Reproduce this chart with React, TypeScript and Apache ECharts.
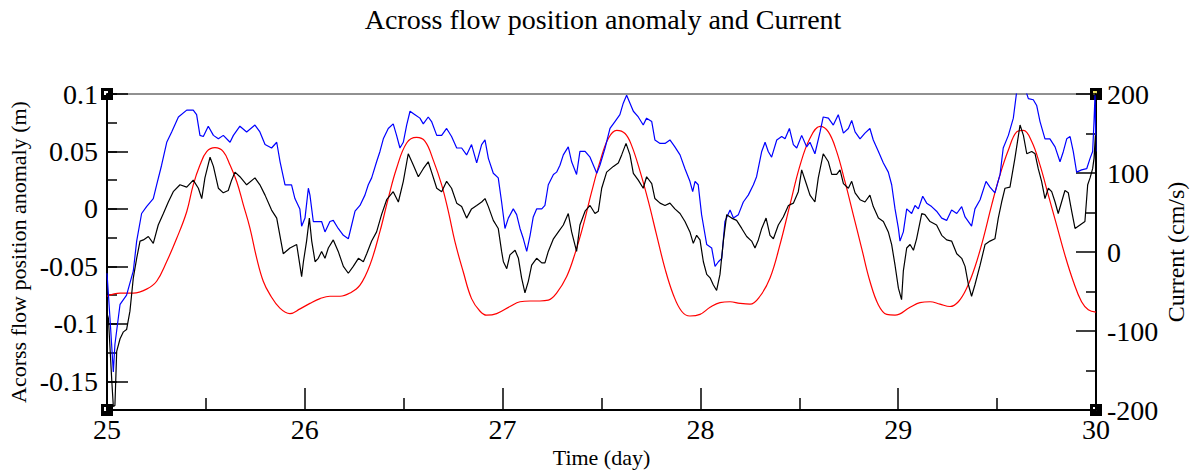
import React, { useEffect, useRef } from "react";
import * as echarts from "echarts";

const TITLE = "Across flow position anomaly and Current";
const X_NAME = "Time (day)";
const LEFT_NAME = "Acorss flow position anomaly (m)";
const RIGHT_NAME = "Current (cm/s)";

const leftTickValues = [-0.15, -0.1, -0.05, 0, 0.05, 0.1];

// Current (cm/s), right axis
const redCurrent: [number, number][] = [
  [25.000,-56],[25.066,-52],[25.133,-52],[25.200,-47],[25.251,-37],[25.302,-12],[25.352,17],[25.403,51],[25.436,85],[25.470,110],[25.504,127],[25.546,132],[25.588,127],[25.622,110],[25.656,89],[25.689,60],[25.723,30],[25.757,-8],[25.790,-37],[25.824,-54],[25.874,-71],[25.925,-78],[25.976,-72],
  [26.026,-65],[26.077,-59],[26.127,-56],[26.178,-56],[26.228,-52],[26.279,-42],[26.330,-16],[26.380,26],[26.422,68],[26.464,106],[26.515,138],[26.565,145],[26.608,140],[26.650,116],[26.692,85],[26.726,51],[26.759,13],[26.801,-25],[26.843,-59],[26.886,-75],[26.919,-80],[26.970,-78],
  [27.037,-69],[27.088,-63],[27.139,-62],[27.189,-62],[27.231,-61],[27.273,-52],[27.324,-31],[27.366,-2],[27.408,34],[27.450,76],[27.492,114],[27.535,144],[27.577,154],[27.619,150],[27.652,135],[27.695,102],[27.737,64],[27.779,21],[27.821,-21],[27.863,-54],[27.905,-75],[27.947,-81],[27.998,-79],
  [28.049,-70],[28.099,-64],[28.150,-63],[28.200,-65],[28.251,-66],[28.301,-56],[28.352,-33],[28.402,9],[28.453,60],[28.504,110],[28.554,144],[28.605,159],[28.647,152],[28.689,127],[28.731,89],[28.773,47],[28.815,5],[28.857,-37],[28.900,-67],[28.942,-79],[28.984,-80],
  [29.060,-70],[29.110,-64],[29.161,-63],[29.211,-66],[29.262,-69],[29.304,-63],[29.346,-46],[29.388,-19],[29.430,17],[29.473,60],[29.515,98],[29.557,129],[29.599,152],[29.633,154],[29.675,140],[29.717,110],[29.759,72],[29.801,34],[29.843,-4],[29.885,-37],[29.927,-63],[29.961,-73],[30.000,-76]
];

// Position anomaly (m), left axis, blue
const blueAnomaly: [number, number][] = [
  [25.000,-0.056],[25.015,-0.095],[25.032,-0.142],[25.040,-0.118],[25.066,-0.083],[25.099,-0.075],[25.133,-0.054],[25.150,-0.028],[25.175,-0.004],[25.200,0.002],[25.234,0.009],[25.251,0.021],[25.276,0.038],[25.302,0.058],[25.327,0.067],[25.361,0.080],[25.403,0.086],[25.436,0.086],[25.453,0.082],[25.470,0.064],[25.487,0.063],[25.512,0.072],[25.538,0.064],[25.563,0.061],[25.588,0.064],[25.622,0.058],[25.639,0.064],[25.672,0.072],[25.706,0.067],[25.748,0.073],[25.773,0.067],[25.799,0.056],[25.832,0.053],[25.858,0.058],[25.875,0.041],[25.900,0.021],[25.933,0.021],[25.950,0.009],[25.975,0.000],[25.984,-0.015],
  [26.001,-0.008],[26.018,0.018],[26.026,0.012],[26.043,-0.011],[26.068,-0.011],[26.085,-0.011],[26.102,-0.020],[26.127,-0.011],[26.144,-0.010],[26.169,-0.017],[26.195,-0.023],[26.220,-0.026],[26.237,-0.014],[26.254,-0.002],[26.279,0.003],[26.304,0.012],[26.321,0.021],[26.338,0.027],[26.363,0.041],[26.380,0.050],[26.397,0.061],[26.422,0.070],[26.447,0.074],[26.464,0.064],[26.481,0.053],[26.498,0.058],[26.515,0.073],[26.532,0.085],[26.557,0.082],[26.582,0.079],[26.599,0.074],[26.624,0.080],[26.641,0.076],[26.667,0.064],[26.692,0.064],[26.717,0.070],[26.742,0.063],[26.768,0.053],[26.793,0.053],[26.818,0.047],[26.843,0.056],[26.869,0.040],[26.894,0.056],[26.911,0.060],[26.928,0.044],[26.953,0.031],[26.978,0.027],[26.995,0.006],
  [27.012,-0.017],[27.029,-0.008],[27.054,0.000],[27.071,-0.005],[27.088,-0.017],[27.105,-0.026],[27.122,-0.037],[27.139,-0.023],[27.155,-0.007],[27.172,0.000],[27.198,0.000],[27.214,0.003],[27.231,0.021],[27.257,0.030],[27.273,0.032],[27.290,0.038],[27.307,0.047],[27.332,0.054],[27.349,0.041],[27.374,0.030],[27.391,0.050],[27.417,0.050],[27.442,0.045],[27.459,0.038],[27.476,0.031],[27.492,0.038],[27.518,0.053],[27.543,0.070],[27.568,0.076],[27.593,0.082],[27.610,0.092],[27.627,0.099],[27.644,0.092],[27.661,0.085],[27.686,0.080],[27.711,0.073],[27.728,0.079],[27.754,0.076],[27.770,0.060],[27.796,0.057],[27.821,0.057],[27.846,0.060],[27.871,0.054],[27.897,0.047],[27.922,0.035],[27.947,0.024],[27.961,0.015],[27.973,0.024],[27.989,0.021],
  [28.006,-0.005],[28.015,-0.014],[28.032,-0.031],[28.057,-0.034],[28.074,-0.050],[28.091,-0.046],[28.108,-0.043],[28.124,-0.011],[28.150,-0.001],[28.167,-0.008],[28.192,-0.005],[28.217,0.006],[28.242,0.012],[28.268,0.021],[28.284,0.028],[28.310,0.050],[28.327,0.058],[28.343,0.050],[28.360,0.045],[28.386,0.060],[28.411,0.063],[28.428,0.061],[28.450,0.070],[28.470,0.056],[28.487,0.053],[28.512,0.064],[28.537,0.054],[28.554,0.058],[28.579,0.048],[28.605,0.067],[28.621,0.080],[28.647,0.079],[28.672,0.073],[28.697,0.082],[28.723,0.066],[28.748,0.070],[28.765,0.077],[28.782,0.067],[28.807,0.061],[28.832,0.066],[28.857,0.070],[28.874,0.060],[28.900,0.050],[28.925,0.040],[28.950,0.032],[28.967,0.021],[28.984,0.000],[29.001,-0.017],[29.009,-0.028],
  [29.026,-0.020],[29.043,0.000],[29.068,-0.004],[29.085,0.003],[29.102,0.000],[29.124,0.011],[29.144,0.005],[29.169,0.002],[29.194,-0.002],[29.220,-0.008],[29.245,-0.010],[29.270,-0.001],[29.296,-0.004],[29.321,0.002],[29.338,-0.007],[29.355,-0.011],[29.371,-0.015],[29.388,0.000],[29.414,0.008],[29.444,0.024],[29.464,0.019],[29.489,0.014],[29.515,0.030],[29.531,0.053],[29.557,0.064],[29.582,0.079],[29.599,0.102],[29.616,0.108],[29.641,0.105],[29.658,0.096],[29.683,0.095],[29.700,0.090],[29.717,0.076],[29.742,0.061],[29.767,0.061],[29.793,0.054],[29.818,0.041],[29.835,0.050],[29.852,0.061],[29.869,0.063],[29.885,0.050],[29.902,0.032],[29.927,0.034],[29.953,0.035],[29.970,0.044],[29.983,0.050],[29.990,0.076],[29.995,0.099],[30.000,0.050]
];

// Position anomaly (m), left axis, black
const blackAnomaly: [number, number][] = [
  [25.000,-0.091],[25.007,-0.095],[25.024,-0.149],[25.032,-0.172],[25.040,-0.171],[25.049,-0.124],[25.066,-0.113],[25.083,-0.107],[25.099,-0.105],[25.116,-0.089],[25.133,-0.060],[25.150,-0.043],[25.167,-0.028],[25.184,-0.027],[25.209,-0.024],[25.234,-0.030],[25.259,-0.014],[25.285,-0.004],[25.310,0.006],[25.335,0.015],[25.369,0.021],[25.403,0.019],[25.436,0.025],[25.462,0.018],[25.479,0.009],[25.495,0.027],[25.521,0.045],[25.538,0.037],[25.563,0.018],[25.588,0.014],[25.613,0.016],[25.630,0.025],[25.647,0.032],[25.672,0.028],[25.706,0.021],[25.748,0.027],[25.773,0.021],[25.799,0.012],[25.832,-0.001],[25.858,-0.008],[25.891,-0.039],[25.925,-0.034],[25.959,-0.031],[25.976,-0.050],[25.984,-0.059],[25.993,-0.046],
  [26.009,-0.028],[26.023,-0.008],[26.035,-0.028],[26.052,-0.046],[26.068,-0.043],[26.085,-0.037],[26.102,-0.043],[26.119,-0.034],[26.144,-0.027],[26.169,-0.037],[26.195,-0.050],[26.220,-0.056],[26.245,-0.050],[26.271,-0.043],[26.296,-0.046],[26.313,-0.039],[26.338,-0.028],[26.363,-0.020],[26.388,-0.005],[26.414,0.008],[26.447,0.015],[26.473,0.006],[26.498,0.024],[26.523,0.048],[26.549,0.038],[26.574,0.028],[26.599,0.035],[26.624,0.041],[26.641,0.032],[26.667,0.018],[26.692,0.015],[26.717,0.024],[26.742,0.018],[26.768,0.005],[26.793,0.002],[26.818,-0.008],[26.843,0.000],[26.869,0.003],[26.894,0.006],[26.911,0.009],[26.928,0.002],[26.953,-0.010],[26.978,-0.017],[26.995,-0.037],
  [27.004,-0.046],[27.021,-0.052],[27.037,-0.040],[27.063,-0.036],[27.080,-0.043],[27.096,-0.060],[27.113,-0.073],[27.130,-0.063],[27.147,-0.049],[27.172,-0.043],[27.198,-0.047],[27.214,-0.047],[27.231,-0.037],[27.257,-0.026],[27.282,-0.020],[27.307,-0.014],[27.332,-0.004],[27.349,-0.020],[27.374,-0.037],[27.391,-0.014],[27.417,-0.002],[27.442,0.003],[27.467,-0.004],[27.484,-0.002],[27.501,0.018],[27.526,0.032],[27.560,0.037],[27.585,0.040],[27.602,0.047],[27.624,0.057],[27.644,0.047],[27.661,0.031],[27.686,0.025],[27.711,0.018],[27.728,0.028],[27.754,0.022],[27.770,0.009],[27.796,0.005],[27.821,0.003],[27.846,0.005],[27.871,0.000],[27.897,-0.004],[27.922,-0.011],[27.947,-0.020],[27.964,-0.030],[27.981,-0.023],[27.998,-0.027],
  [28.015,-0.046],[28.032,-0.057],[28.049,-0.060],[28.065,-0.066],[28.082,-0.071],[28.099,-0.057],[28.116,-0.028],[28.133,-0.005],[28.158,-0.008],[28.183,-0.010],[28.209,-0.017],[28.234,-0.024],[28.259,-0.028],[28.276,-0.034],[28.293,-0.027],[28.310,-0.017],[28.332,-0.008],[28.352,-0.023],[28.369,-0.026],[28.394,-0.014],[28.419,-0.007],[28.445,0.003],[28.470,0.005],[28.495,0.015],[28.512,0.034],[28.537,0.021],[28.554,0.012],[28.579,0.006],[28.596,0.027],[28.621,0.048],[28.647,0.041],[28.664,0.030],[28.689,0.030],[28.706,0.034],[28.723,0.022],[28.748,0.018],[28.765,0.024],[28.782,0.014],[28.807,0.008],[28.832,0.006],[28.857,0.012],[28.874,0.002],[28.900,-0.008],[28.925,-0.011],[28.950,-0.020],[28.967,-0.031],[28.984,-0.049],[29.001,-0.069],[29.017,-0.079],
  [29.026,-0.054],[29.043,-0.034],[29.060,-0.031],[29.077,-0.036],[29.093,-0.026],[29.119,-0.004],[29.135,-0.005],[29.161,-0.011],[29.194,-0.014],[29.220,-0.023],[29.245,-0.027],[29.270,-0.028],[29.296,-0.039],[29.321,-0.043],[29.338,-0.050],[29.355,-0.066],[29.371,-0.076],[29.388,-0.066],[29.414,-0.049],[29.439,-0.031],[29.464,-0.028],[29.489,-0.026],[29.506,-0.008],[29.523,0.006],[29.540,0.018],[29.565,0.019],[29.590,0.044],[29.616,0.073],[29.633,0.064],[29.650,0.048],[29.675,0.050],[29.692,0.048],[29.708,0.035],[29.725,0.024],[29.742,0.009],[29.759,0.018],[29.776,0.015],[29.793,0.006],[29.809,-0.004],[29.826,0.006],[29.843,0.016],[29.860,0.014],[29.877,-0.002],[29.894,-0.017],[29.919,-0.014],[29.944,-0.011],[29.958,0.021],[29.970,0.027],[29.983,0.035],[29.990,0.044],[29.997,0.064],[30.000,-0.049]
];

const FONT = "Liberation Serif";
const GRID = { left: 107, right: 94, top: 94, bottom: 65 };
const W = 1190;
const H = 475;

export default function App() {
  const ref = useRef<HTMLDivElement>(null);

  useEffect(() => {
    if (!ref.current) return;
    const chart = echarts.init(ref.current, undefined, { renderer: "svg" });
    const x0 = GRID.left;
    const x1 = W - GRID.right;
    const y0 = GRID.top;
    const y1 = H - GRID.bottom;
    const corner = (cx: number, cy: number, inner: string) => ({
      type: "group",
      children: [
        { type: "rect", shape: { x: cx - 6, y: cy - 6, width: 12, height: 12 }, style: { fill: "#000" } },
        { type: "rect", shape: { x: cx - 3, y: cy - 3, width: 4, height: 4 }, style: { fill: inner } },
      ],
    });
    const tickStyle = { color: "#000", width: 1.5 };
    const option: any = {
      animation: false,
      backgroundColor: "#fff",
      title: {
        text: TITLE,
        left: 598,
        top: 0,
        textAlign: "center",
        textStyle: { fontFamily: FONT, fontSize: 28, fontWeight: "normal", color: "#000" },
      },
      grid: {
        ...GRID,
        outerBoundsMode: "none",
        containLabel: false,
        show: true,
        borderColor: "#222",
        borderWidth: 1,
        backgroundColor: "transparent",
      },
      xAxis: {
        type: "value",
        min: 25,
        max: 30,
        interval: 1,
        name: X_NAME,
        nameLocation: "middle",
        nameGap: 36,
        nameMoveOverlap: false,
        nameTextStyle: { fontFamily: FONT, fontSize: 22, color: "#000" },
        axisLine: { show: true, onZero: false, lineStyle: { color: "#000", width: 2 } },
        axisTick: { show: true, inside: true, length: 22, lineStyle: tickStyle },
        minorTick: { show: true, splitNumber: 2, length: 12, lineStyle: tickStyle },
        axisLabel: { fontFamily: FONT, fontSize: 28, color: "#000", margin: 5 },
        splitLine: { show: false },
        minorSplitLine: { show: false },
      },
      yAxis: [
        {
          type: "value",
          position: "left",
          min: -0.175,
          max: 0.1,
          name: LEFT_NAME,
          nameLocation: "middle",
          nameRotate: 90,
          nameGap: 78,
          nameMoveOverlap: false,
          nameTextStyle: { fontFamily: FONT, fontSize: 22, color: "#000" },
          axisLine: { show: true, onZero: false, lineStyle: { color: "#000", width: 2 } },
          axisTick: { show: true, inside: true, length: 21, customValues: leftTickValues, lineStyle: tickStyle },
          axisLabel: { fontFamily: FONT, fontSize: 28, color: "#000", margin: 9, customValues: leftTickValues },
          splitLine: { show: false },
        },
        {
          type: "value",
          position: "left",
          min: -0.175,
          max: 0.1,
          interval: 0.025,
          axisLine: { show: false, onZero: false },
          axisTick: { show: true, inside: true, length: 10, lineStyle: tickStyle },
          axisLabel: { show: false },
          splitLine: { show: false },
        },
        {
          type: "value",
          position: "right",
          min: -200,
          max: 200,
          interval: 100,
          name: RIGHT_NAME,
          nameLocation: "middle",
          nameRotate: 90,
          nameGap: 68,
          nameMoveOverlap: false,
          nameTextStyle: { fontFamily: FONT, fontSize: 24, color: "#000" },
          axisLine: { show: true, onZero: false, lineStyle: { color: "#000", width: 2 } },
          axisTick: { show: true, inside: true, length: 20, lineStyle: tickStyle },
          minorTick: { show: true, splitNumber: 2, length: 10, lineStyle: tickStyle },
          axisLabel: { fontFamily: FONT, fontSize: 28, color: "#000", margin: 11 },
          splitLine: { show: false },
        },
      ],
      series: [
        {
          name: "Current",
          type: "line",
          yAxisIndex: 2,
          data: redCurrent,
          showSymbol: false,
          symbol: "none",
          smooth: 0.4,
          lineStyle: { color: "#ff0000", width: 1.2 },
          z: 2,
        },
        {
          name: "Anomaly (blue)",
          type: "line",
          yAxisIndex: 0,
          data: blueAnomaly,
          showSymbol: false,
          symbol: "none",
          lineStyle: { color: "#0000ff", width: 1.2 },
          z: 3,
        },
        {
          name: "Anomaly (black)",
          type: "line",
          yAxisIndex: 0,
          data: blackAnomaly,
          showSymbol: false,
          symbol: "none",
          lineStyle: { color: "#000000", width: 1.2 },
          z: 4,
        },
      ],
      graphic: {
        elements: [
          corner(x0, y0, "#fff"),
          corner(x1, y0, "#e8e060"),
          corner(x0, y1, "#fff"),
          corner(x1, y1, "#fff"),
        ],
      },
    };
    chart.setOption(option);
    return () => chart.dispose();
  }, []);

  return (
    <div
      ref={ref}
      style={{ position: "absolute", left: 0, top: 0, width: W, height: H, background: "#fff" }}
    />
  );
}
